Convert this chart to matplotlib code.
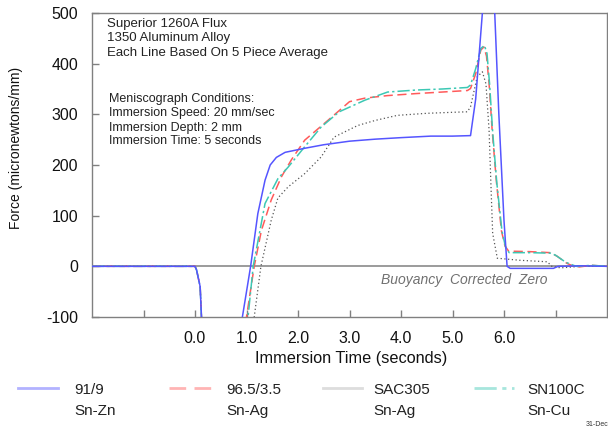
import matplotlib
matplotlib.use("Agg")
import matplotlib.pyplot as plt
from matplotlib.lines import Line2D

plt.rcParams['font.family'] = ['Liberation Sans', 'DejaVu Sans']

# ---------------- data ----------------
series_names = ["91/9\nSn-Zn", "96.5/3.5\nSn-Ag", "SAC305\nSn-Ag", "SN100C\nSn-Cu"]

t_snzn = [-2.0, 0.0, 0.03, 0.1, 0.13, 0.5, 0.87, 0.92, 1.08, 1.22, 1.36, 1.46, 1.58, 1.75, 2.13,
          2.5, 3.0, 3.5, 4.0, 4.58, 5.0, 5.35, 5.45, 5.58, 5.70, 5.82, 5.90, 6.0, 6.06,
          6.12, 6.96, 7.05, 7.5, 8.0]
f_snzn = [0, 0, -7, -40, -110, -700, -180, -100, 0, 104, 170, 200, 215, 225, 233,
          240, 247, 251, 254, 257, 257, 258, 330, 500, 600, 500, 300, 90, 0,
          -4, -4, 0, 1, 0]

t_snag = [-2.0, 0.0, 0.03, 0.1, 0.13, 0.5, 0.95, 1.0, 1.15, 1.29, 1.48, 1.68, 1.87, 2.13,
          2.58, 3.0, 3.3, 3.74, 4.3, 4.8, 5.29, 5.35, 5.45, 5.55, 5.61, 5.66, 5.71, 5.77,
          5.85, 5.95, 6.02, 6.09, 6.5, 6.9, 7.03, 7.22, 7.4, 7.7, 8.0]
f_snag = [0, 0, -7, -40, -110, -700, -160, -100, 0, 71, 131, 177, 210, 249,
          288, 325, 332, 337, 341, 344, 347, 351, 380, 427, 433, 415, 361, 269,
          170, 70, 40, 30, 29, 27, 20, 6, -2, 2, 0]

t_sac = [-2.0, 0.0, 0.03, 0.1, 0.13, 0.5, 1.1, 1.15, 1.28, 1.48, 1.61, 1.81, 2.13, 2.45,
         2.7, 3.16, 3.5, 3.93, 4.5, 5.0, 5.29, 5.35, 5.48, 5.58, 5.65, 5.71, 5.75, 5.78,
         5.87, 6.3, 6.84, 6.93, 7.1, 7.5, 8.0]
f_sac = [0, 0, -7, -40, -110, -700, -160, -100, 0, 91, 135, 157, 183, 216,
         255, 278, 288, 298, 302, 304, 305, 315, 374, 384, 360, 269, 150, 65,
         16, 12, 9, 0, -3, 0, 0]

t_sncu = [-2.0, 0.0, 0.03, 0.1, 0.13, 0.5, 0.98, 1.03, 1.13, 1.36, 1.61, 1.81, 2.13, 2.45,
          2.8, 3.3, 3.74, 4.3, 4.8, 5.29, 5.35, 5.45, 5.55, 5.62, 5.67, 5.72, 5.78, 5.86,
          5.96, 6.03, 6.1, 6.5, 6.9, 7.0, 7.2, 7.4, 7.7, 8.0]
f_sncu = [0, 0, -7, -40, -110, -700, -160, -100, 0, 124, 173, 196, 236, 275,
          305, 328, 344, 348, 350, 353, 358, 390, 430, 436, 420, 360, 265, 165,
          70, 38, 27, 27, 26, 22, 8, 0, 2, 0]

xtick_values = [-1, 0, 1, 2, 3, 4, 5, 6, 7]
xtick_labels = ["", "0.0", "1.0", "2.0", "3.0", "4.0", "5.0", "6.0", ""]
ytick_values = [-100, 0, 100, 200, 300, 400, 500]

header_lines = ["Superior 1260A Flux", "1350 Aluminum Alloy", "Each Line Based On 5 Piece Average"]
cond_lines = ["Meniscograph Conditions:", "Immersion Speed: 20 mm/sec",
              "Immersion Depth: 2 mm", "Immersion Time: 5 seconds"]

# ---------------- styles ----------------
colors = ["#5555ff", "#ff5a5a", "#555555", "#3cc8b4"]
styles = ["-", (0, (6, 3)), (0, (1, 2)), (0, (8, 2, 1.5, 2))]
lws = [1.1, 1.1, 0.9, 1.1]

fig = plt.figure(figsize=(6.08, 4.32), dpi=100)
ax = fig.add_axes([92/608, (432-317)/432, (607-92)/608, 304/432])

ax.axhline(0, color="#8a8a8a", lw=1.2, zorder=1)

data = [(t_snzn, f_snzn), (t_snag, f_snag), (t_sac, f_sac), (t_sncu, f_sncu)]
order = [2, 1, 3, 0]
for i in order:
    t, f = data[i]
    ax.plot(t, f, color=colors[i], ls=styles[i], lw=lws[i], zorder=3 + (i == 0))

ax.set_xlim(-2, 8)
ax.set_ylim(-100, 500)
ax.set_xticks(xtick_values)
ax.set_xticklabels(xtick_labels)
ax.set_yticks(ytick_values)
ax.set_yticklabels([str(v) for v in ytick_values])
ax.tick_params(axis="both", direction="in", length=5, width=1, color="#808080",
               labelsize=11.5, labelcolor="#111111")
ax.tick_params(axis="x", pad=10)
ax.tick_params(axis="y", pad=10)
for s in ax.spines.values():
    s.set_color("#808080")
    s.set_linewidth(1)

ax.set_xlabel("Immersion Time (seconds)", fontsize=11.7, color="#111111")
ax.xaxis.set_label_coords((351-92)/515, (317-359)/304)
ax.xaxis.label.set_va("center")
ax.set_ylabel("Force (micronewtons/mm)", fontsize=10, color="#111111")
ax.yaxis.set_label_coords((16-92)/515, (317-148)/304)
ax.yaxis.label.set_va("center")

# annotations
for line, py in zip(header_lines, [24, 38.5, 53]):
    ax.text((107-92)/515, (317-py)/304, line, transform=ax.transAxes, fontsize=9.5,
            va="center", ha="left", color="#222222")
for line, py in zip(cond_lines, [99, 113.3, 127.5, 141]):
    ax.text((109-92)/515, (317-py)/304, line, transform=ax.transAxes, fontsize=9,
            va="center", ha="left", color="#222222")

ax.text(3.62, -27, "Buoyancy  Corrected  Zero", fontsize=10, style="italic",
        color="#707070", va="center", ha="left")

# legend (manual, below axes)
leg_line_x = [(18, 58), (169, 212), (323, 362), (474, 514)]
leg_text_x = [74, 226, 373, 527]
for i in range(4):
    x0, x1 = leg_line_x[i]
    fig.add_artist(Line2D([x0/608, x1/608], [1-388/432, 1-388/432], color=colors[i],
                          ls=styles[i] if i != 2 else "-", lw=2, alpha=0.45 if i != 2 else 0.2))
    l1, l2 = series_names[i].split("\n")
    fig.text(leg_text_x[i]/608, 1-390/432, l1, fontsize=11, va="center", ha="left", color="#222222")
    fig.text(leg_text_x[i]/608, 1-411/432, l2, fontsize=11, va="center", ha="left", color="#222222")

fig.text(586/608, 1-425/432, "31-Dec", fontsize=5, va="center", ha="left", color="#333333")

fig.savefig("out.png", dpi=100)
